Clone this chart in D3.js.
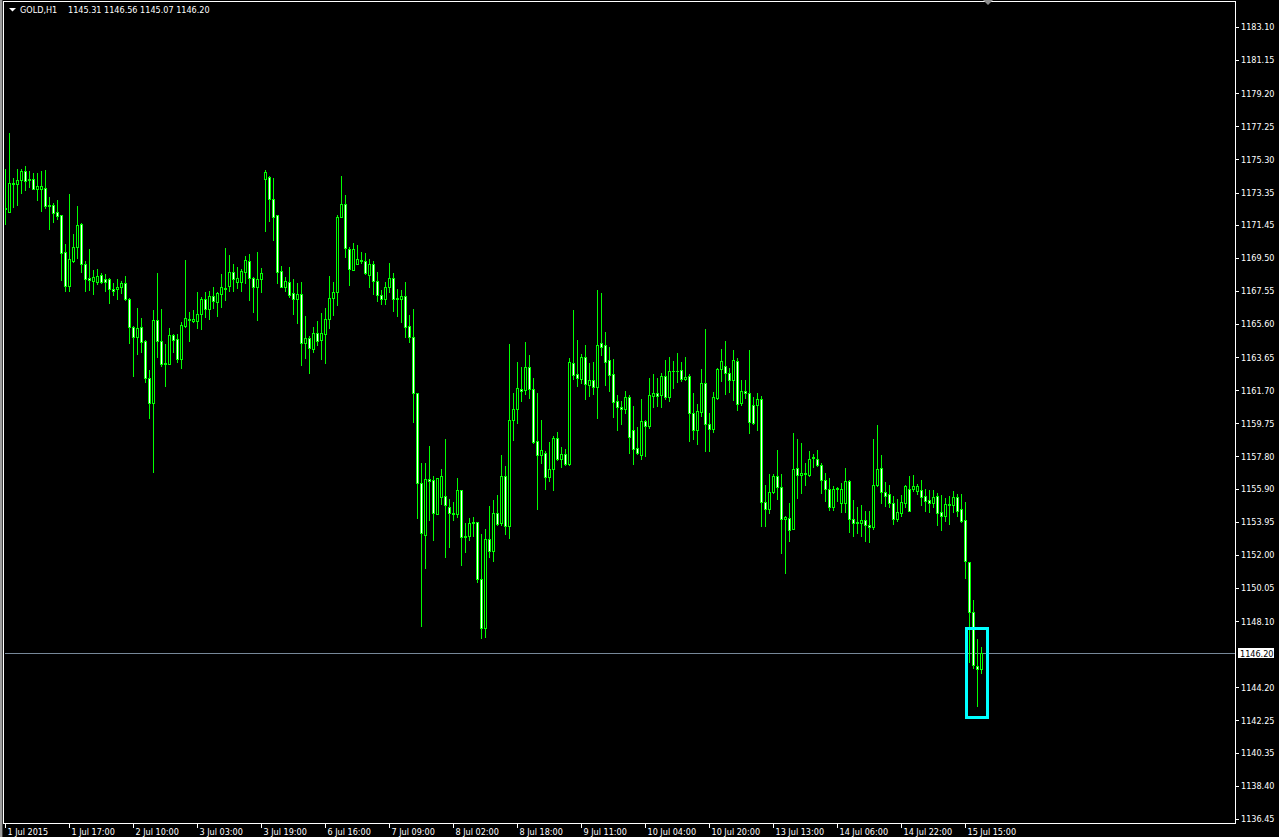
<!DOCTYPE html>
<html>
<head>
<meta charset="utf-8">
<title>GOLD,H1</title>
<script src="https://cdn.jsdelivr.net/npm/d3@7"></script>
<style>
  html, body { margin: 0; padding: 0; background: #000; overflow: hidden; }
  svg { display: block; }
  text { font-family: "DejaVu Sans Condensed", "Liberation Sans", sans-serif; font-size: 9px; fill: #fff; }
</style>
</head>
<body>
<svg id="chart"></svg>
<script>
// GOLD H1 bars, 1 Jul 2015 -> 15 Jul 2015
const symbol = 'GOLD,H1';

const opens = [
  1172.40, 1172.23, 1173.84, 1173.84, 1174.11, 1174.60, 1174.07, 1174.13, 1173.58, 1173.58,
  1173.60, 1172.58, 1172.60, 1172.19, 1172.01, 1169.83, 1167.87, 1169.34, 1170.14, 1171.48,
  1169.12, 1168.32, 1168.16, 1168.10, 1168.48, 1168.28, 1168.24, 1167.67, 1167.65, 1167.79,
  1168.00, 1167.08, 1165.43, 1164.82, 1165.41, 1164.59, 1162.41, 1160.94, 1165.82, 1164.59,
  1163.25, 1163.25, 1164.94, 1164.71, 1163.57, 1165.51, 1165.88, 1165.80, 1165.80, 1166.18,
  1167.06, 1166.47, 1167.24, 1166.92, 1167.35, 1167.73, 1167.83, 1168.67, 1168.06, 1168.06,
  1168.65, 1169.34, 1168.34, 1167.81, 1168.24, 1174.17, 1174.25, 1172.95, 1172.01, 1168.71,
  1167.81, 1168.08, 1167.42, 1167.06, 1167.36, 1164.51, 1164.79, 1164.16, 1165.06, 1164.69,
  1165.00, 1165.92, 1167.16, 1167.51, 1171.89, 1172.66, 1170.01, 1168.81, 1169.16, 1169.40,
  1169.30, 1168.52, 1169.12, 1168.12, 1167.32, 1167.10, 1167.81, 1168.30, 1167.10, 1167.10,
  1167.24, 1165.47, 1164.83, 1161.53, 1156.23, 1153.20, 1156.46, 1156.42, 1154.40, 1155.44,
  1155.50, 1154.81, 1154.46, 1154.40, 1155.81, 1153.08, 1153.14, 1153.87, 1153.93, 1150.57,
  1147.68, 1152.93, 1152.22, 1154.46, 1153.87, 1156.66, 1153.73, 1159.93, 1160.58, 1161.78,
  1161.70, 1163.06, 1161.76, 1158.70, 1157.91, 1157.99, 1156.58, 1157.05, 1158.89, 1157.64,
  1157.93, 1157.38, 1163.29, 1162.64, 1162.39, 1163.64, 1162.00, 1162.29, 1161.92, 1164.47,
  1164.35, 1163.47, 1162.64, 1161.05, 1160.72, 1160.62, 1161.29, 1159.35, 1158.29, 1157.87,
  1159.88, 1159.62, 1161.39, 1161.52, 1161.43, 1162.53, 1161.33, 1162.82, 1162.84, 1162.88,
  1162.37, 1162.53, 1160.35, 1159.38, 1160.44, 1162.11, 1159.72, 1159.44, 1161.27, 1162.94,
  1163.11, 1162.72, 1162.33, 1163.43, 1160.96, 1161.64, 1161.52, 1160.81, 1160.85, 1161.17,
  1155.12, 1154.69, 1155.69, 1156.63, 1155.98, 1154.10, 1154.20, 1153.53, 1157.12, 1156.69,
  1156.81, 1156.71, 1157.69, 1157.63, 1157.30, 1156.40, 1155.86, 1154.80, 1155.90, 1155.08,
  1155.08, 1156.34, 1154.10, 1153.94, 1153.86, 1154.06, 1153.76, 1153.67, 1156.10, 1157.12,
  1155.69, 1155.57, 1155.04, 1154.10, 1154.49, 1155.08, 1155.86, 1155.86, 1155.79, 1155.81,
  1155.45, 1155.24, 1155.06, 1155.45, 1154.51, 1154.31, 1155.00, 1154.94, 1155.41, 1154.69,
  1154.04, 1151.56, 1148.66, 1145.46, 1145.31
];
const highs = [
  1174.74, 1176.84, 1174.19, 1174.72, 1174.74, 1174.92, 1174.62, 1174.50, 1174.50, 1174.62,
  1174.68, 1173.09, 1172.74, 1172.91, 1172.03, 1170.32, 1173.27, 1170.91, 1172.56, 1171.56,
  1169.32, 1170.03, 1168.79, 1168.85, 1168.59, 1168.55, 1168.32, 1168.00, 1168.26, 1168.14,
  1168.44, 1167.14, 1165.49, 1166.55, 1165.96, 1164.69, 1162.90, 1166.41, 1168.61, 1166.49,
  1164.43, 1165.37, 1165.02, 1165.00, 1165.71, 1169.38, 1166.32, 1166.41, 1167.47, 1167.20,
  1167.47, 1167.55, 1167.77, 1167.49, 1168.55, 1170.09, 1169.67, 1169.12, 1168.97, 1168.83,
  1169.61, 1169.71, 1168.40, 1169.85, 1168.91, 1174.68, 1174.33, 1174.19, 1172.03, 1169.03,
  1168.40, 1168.97, 1168.26, 1168.03, 1168.08, 1166.08, 1164.90, 1165.43, 1165.79, 1166.26,
  1166.55, 1168.44, 1168.08, 1172.03, 1174.33, 1173.21, 1170.13, 1170.38, 1170.26, 1169.85,
  1169.79, 1169.44, 1169.32, 1168.67, 1167.61, 1168.08, 1169.20, 1168.61, 1167.67, 1167.61,
  1168.08, 1166.14, 1166.49, 1161.53, 1157.42, 1157.42, 1158.42, 1156.66, 1156.52, 1157.07,
  1158.84, 1155.28, 1155.13, 1156.54, 1155.81, 1153.91, 1154.16, 1154.24, 1153.93, 1153.24,
  1153.53, 1154.89, 1155.24, 1155.54, 1157.89, 1157.24, 1164.43, 1161.54, 1163.37, 1163.08,
  1164.55, 1163.78, 1162.41, 1161.54, 1159.95, 1158.15, 1158.66, 1159.01, 1159.25, 1158.34,
  1158.25, 1163.59, 1166.43, 1164.67, 1163.84, 1164.37, 1163.31, 1163.37, 1167.61, 1167.43,
  1165.14, 1164.25, 1163.55, 1161.43, 1161.07, 1161.66, 1161.45, 1160.78, 1159.54, 1161.19,
  1159.95, 1162.45, 1162.64, 1162.45, 1162.72, 1163.49, 1163.64, 1163.45, 1163.90, 1163.37,
  1163.64, 1162.64, 1161.54, 1160.88, 1162.96, 1165.29, 1160.35, 1161.58, 1163.04, 1164.14,
  1164.61, 1163.04, 1164.08, 1163.59, 1162.31, 1162.31, 1164.08, 1161.32, 1161.52, 1161.36,
  1156.12, 1156.77, 1156.77, 1158.18, 1156.77, 1154.29, 1155.06, 1159.18, 1158.83, 1158.59,
  1157.40, 1158.12, 1157.95, 1158.18, 1157.42, 1156.81, 1156.51, 1156.06, 1156.02, 1156.22,
  1157.12, 1156.40, 1155.24, 1154.82, 1154.94, 1154.59, 1154.59, 1158.83, 1159.65, 1157.89,
  1156.30, 1156.12, 1155.47, 1155.30, 1155.53, 1156.12, 1156.65, 1156.71, 1156.18, 1156.41,
  1155.88, 1155.83, 1155.83, 1155.67, 1155.53, 1155.33, 1155.47, 1155.77, 1155.59, 1155.59,
  1155.12, 1151.56, 1149.35, 1147.05, 1146.56
];
const lows = [
  1171.52, 1172.19, 1172.52, 1172.62, 1173.34, 1173.50, 1173.68, 1173.58, 1172.91, 1172.28,
  1172.42, 1171.22, 1171.64, 1171.79, 1168.20, 1167.57, 1167.57, 1169.28, 1169.52, 1168.69,
  1167.57, 1167.61, 1167.40, 1167.94, 1168.04, 1167.57, 1166.87, 1167.32, 1167.08, 1167.41,
  1167.04, 1164.49, 1162.56, 1163.86, 1163.96, 1162.19, 1160.09, 1156.91, 1163.68, 1163.15,
  1161.98, 1163.23, 1163.98, 1163.35, 1163.04, 1165.41, 1164.63, 1165.71, 1165.37, 1165.33,
  1166.04, 1165.92, 1166.53, 1166.10, 1166.61, 1167.04, 1167.57, 1167.57, 1167.71, 1167.57,
  1168.04, 1167.02, 1166.34, 1165.85, 1167.51, 1171.11, 1171.68, 1170.56, 1168.04, 1167.81,
  1167.57, 1167.22, 1166.20, 1165.67, 1163.21, 1163.63, 1162.74, 1163.96, 1164.37, 1163.55,
  1163.33, 1165.39, 1166.14, 1166.73, 1171.89, 1169.58, 1167.91, 1168.79, 1169.16, 1169.20,
  1168.56, 1167.81, 1167.38, 1166.98, 1166.79, 1166.79, 1167.51, 1166.38, 1166.10, 1165.71,
  1164.86, 1164.55, 1159.86, 1154.20, 1147.84, 1151.26, 1154.03, 1152.89, 1154.40, 1155.01,
  1151.85, 1152.44, 1154.06, 1154.24, 1151.41, 1152.20, 1152.89, 1153.14, 1150.43, 1147.09,
  1147.15, 1151.85, 1151.67, 1153.77, 1153.77, 1153.24, 1153.02, 1158.78, 1159.80, 1161.09,
  1161.49, 1161.27, 1158.62, 1154.73, 1157.44, 1155.91, 1156.36, 1155.83, 1157.62, 1157.20,
  1157.32, 1157.32, 1162.37, 1161.96, 1162.11, 1161.21, 1161.39, 1161.50, 1160.09, 1163.76,
  1162.02, 1161.66, 1160.11, 1159.38, 1159.74, 1160.35, 1158.03, 1157.38, 1157.95, 1157.68,
  1157.83, 1159.50, 1160.70, 1160.78, 1160.72, 1161.21, 1161.09, 1161.84, 1162.19, 1162.27,
  1162.29, 1158.74, 1158.81, 1158.56, 1160.21, 1158.15, 1158.15, 1159.27, 1161.21, 1162.27,
  1161.50, 1161.58, 1161.15, 1160.54, 1160.86, 1161.23, 1159.21, 1159.71, 1159.36, 1153.71,
  1153.71, 1154.49, 1155.63, 1155.30, 1152.13, 1150.96, 1152.84, 1153.51, 1155.37, 1155.67,
  1156.12, 1156.67, 1157.20, 1157.24, 1155.67, 1155.20, 1154.65, 1154.65, 1155.20, 1154.55,
  1154.55, 1153.37, 1153.14, 1153.31, 1153.14, 1152.84, 1152.78, 1153.55, 1156.06, 1155.08,
  1154.88, 1154.84, 1153.82, 1154.00, 1154.29, 1154.84, 1154.57, 1155.77, 1155.59, 1154.94,
  1154.61, 1154.55, 1154.80, 1153.76, 1153.47, 1154.02, 1153.82, 1154.55, 1154.31, 1153.94,
  1150.64, 1145.71, 1145.36, 1143.12, 1145.07
];
const closes = [
  1172.46, 1173.89, 1173.89, 1174.07, 1174.60, 1174.05, 1174.13, 1173.58, 1173.72, 1173.72,
  1172.58, 1172.62, 1172.17, 1171.99, 1169.81, 1167.87, 1169.42, 1170.12, 1171.42, 1169.12,
  1168.28, 1168.20, 1168.36, 1168.44, 1168.10, 1168.10, 1167.65, 1167.53, 1167.79, 1168.02,
  1167.06, 1165.41, 1164.82, 1165.35, 1164.57, 1162.43, 1160.94, 1165.82, 1164.59, 1163.25,
  1163.29, 1164.94, 1164.69, 1163.57, 1165.53, 1165.98, 1165.82, 1165.90, 1166.18, 1167.06,
  1166.47, 1167.28, 1166.94, 1167.41, 1167.77, 1167.69, 1168.67, 1168.24, 1168.30, 1168.73,
  1169.38, 1168.30, 1167.81, 1168.26, 1168.59, 1174.54, 1172.99, 1171.93, 1168.69, 1167.81,
  1168.12, 1167.34, 1167.06, 1167.38, 1164.51, 1164.77, 1164.22, 1165.06, 1164.63, 1165.06,
  1165.88, 1167.12, 1167.49, 1171.91, 1172.66, 1170.11, 1168.87, 1170.01, 1169.42, 1169.32,
  1168.59, 1169.12, 1168.12, 1167.34, 1167.10, 1167.77, 1168.30, 1167.10, 1167.14, 1167.24,
  1165.45, 1164.81, 1161.53, 1156.23, 1153.28, 1156.46, 1156.34, 1154.46, 1156.52, 1156.64,
  1154.93, 1154.46, 1154.40, 1155.81, 1153.08, 1153.12, 1153.87, 1153.95, 1150.61, 1147.68,
  1152.93, 1152.22, 1154.46, 1153.83, 1156.66, 1153.73, 1159.93, 1160.58, 1161.82, 1161.64,
  1163.06, 1161.76, 1158.66, 1157.87, 1158.17, 1156.62, 1157.05, 1158.89, 1157.68, 1157.93,
  1157.38, 1163.35, 1162.62, 1162.41, 1163.64, 1162.05, 1162.29, 1161.92, 1164.35, 1164.27,
  1163.39, 1162.58, 1161.03, 1160.70, 1160.62, 1161.29, 1158.97, 1158.23, 1157.99, 1159.88,
  1159.62, 1161.41, 1161.52, 1161.39, 1162.53, 1161.31, 1162.82, 1162.84, 1162.82, 1162.35,
  1162.47, 1160.39, 1159.38, 1160.48, 1162.11, 1159.74, 1159.44, 1161.29, 1162.96, 1163.43,
  1162.74, 1162.33, 1163.49, 1160.88, 1161.64, 1161.56, 1159.86, 1159.75, 1161.17, 1155.14,
  1154.69, 1155.69, 1156.63, 1155.98, 1154.10, 1154.22, 1153.45, 1157.04, 1156.69, 1156.81,
  1156.77, 1157.63, 1157.77, 1157.28, 1156.40, 1155.90, 1154.84, 1155.86, 1155.96, 1155.86,
  1156.34, 1154.10, 1153.90, 1153.86, 1154.06, 1153.74, 1153.63, 1156.12, 1157.04, 1155.73,
  1155.49, 1155.04, 1154.10, 1154.53, 1155.10, 1156.06, 1154.61, 1156.04, 1156.06, 1155.43,
  1155.20, 1155.08, 1155.39, 1154.49, 1154.31, 1155.00, 1154.94, 1155.41, 1154.59, 1154.02,
  1151.62, 1148.66, 1145.52, 1145.26, 1146.20
];

// time scale labels, one every 16 bars
const timeLabels = [
  '1 Jul 2015', '1 Jul 17:00', '2 Jul 10:00', '3 Jul 03:00', '3 Jul 19:00', '6 Jul 16:00',
  '7 Jul 09:00', '8 Jul 02:00', '8 Jul 18:00', '9 Jul 11:00', '10 Jul 04:00', '10 Jul 20:00',
  '13 Jul 13:00', '14 Jul 06:00', '14 Jul 22:00', '15 Jul 15:00'
];
const barsPerLabel = 16;

const priceLabels = [
  '1183.10', '1181.15', '1179.20', '1177.25', '1175.30', '1173.35', '1171.45', '1169.50',
  '1167.55', '1165.60', '1163.65', '1161.70', '1159.75', '1157.80', '1155.90', '1153.95',
  '1152.00', '1150.05', '1148.10', '1144.20', '1142.25', '1140.35', '1138.40', '1136.45'
];

// rectangle object drawn on the chart (bar index range, price range)
const boxBars = [240.4, 245.5];
const boxPrices = [1147.67, 1142.45];

const width = 1279;
const height = 837;
const plot = { left: 4, top: 1, right: 1235, bottom: 823 };

const svg = d3.select('#chart')
  .attr('width', width)
  .attr('height', height)
  .attr('shape-rendering', 'crispEdges');

svg.append('rect').attr('width', width).attr('height', height).attr('fill', '#000');

// 4px per bar, chart shifted away from the right edge
const xScale = d3.scaleLinear().domain([0, 300]).range([5, 1205]);
const yScale = d3.scaleLinear().domain([1136.21, 1184.69]).range([plot.bottom, 0]);

const bars = d3.range(opens.length).map((i) => ({
  i,
  open: opens[i],
  high: highs[i],
  low: lows[i],
  close: closes[i],
}));

svg.append('clipPath').attr('id', 'plot-clip')
  .append('rect')
  .attr('x', plot.left + 1).attr('y', plot.top + 1)
  .attr('width', plot.right - plot.left - 1).attr('height', plot.bottom - plot.top - 1);

const chart = svg.append('g').attr('clip-path', 'url(#plot-clip)');

// current price line (last close)
const last = bars[bars.length - 1];
const priceY = Math.round(yScale(last.close)) + 0.5;
chart.append('line')
  .attr('x1', plot.left).attr('x2', plot.right)
  .attr('y1', priceY).attr('y2', priceY)
  .attr('stroke', '#778899');

const candles = chart.append('g').attr('class', 'candles')
  .selectAll('g')
  .data(bars)
  .join('g');

// wicks
candles.append('rect')
  .attr('x', (d) => Math.round(xScale(d.i)))
  .attr('y', (d) => Math.round(yScale(d.high)))
  .attr('width', 1)
  .attr('height', (d) => Math.round(yScale(d.low)) - Math.round(yScale(d.high)) + 1)
  .attr('fill', '#00ff00');

// body outline
candles.append('rect')
  .attr('x', (d) => Math.round(xScale(d.i)) - 1)
  .attr('y', (d) => Math.round(yScale(Math.max(d.open, d.close))))
  .attr('width', 3)
  .attr('height', (d) => Math.round(yScale(Math.min(d.open, d.close))) - Math.round(yScale(Math.max(d.open, d.close))) + 1)
  .attr('fill', '#00ff00');

// body fill: black for bull, white for bear
candles.append('rect')
  .attr('x', (d) => Math.round(xScale(d.i)))
  .attr('y', (d) => Math.round(yScale(Math.max(d.open, d.close))) + 1)
  .attr('width', 1)
  .attr('height', (d) => Math.max(0, Math.round(yScale(Math.min(d.open, d.close))) - Math.round(yScale(Math.max(d.open, d.close))) - 1))
  .attr('fill', (d) => (d.close >= d.open ? '#000' : '#fff'));

// rectangle object
const bx0 = xScale(boxBars[0]);
const bx1 = xScale(boxBars[1]);
const by0 = yScale(boxPrices[0]);
const by1 = yScale(boxPrices[1]);
chart.append('rect')
  .attr('x', bx0).attr('y', by0)
  .attr('width', bx1 - bx0).attr('height', by1 - by0)
  .attr('fill', 'none')
  .attr('stroke', '#00ffff')
  .attr('stroke-width', 3);

// window edge on the left
svg.append('rect').attr('x', 0).attr('y', 0).attr('width', 2).attr('height', height).attr('fill', '#9c9c9c');
svg.append('rect').attr('x', 2).attr('y', 0).attr('width', 1).attr('height', height).attr('fill', '#3c3c3c');

// frame
svg.append('rect')
  .attr('x', plot.left - 0.5).attr('y', plot.top + 0.5)
  .attr('width', plot.right - plot.left + 1).attr('height', plot.bottom - plot.top)
  .attr('fill', 'none')
  .attr('stroke', '#fff');

// price axis
const yAxis = d3.axisRight(yScale)
  .tickValues(priceLabels.map(Number))
  .tickFormat((d, i) => priceLabels[i])
  .tickSize(3)
  .tickPadding(2);

const yAxisG = svg.append('g')
  .attr('transform', `translate(${plot.right + 1}, 0)`)
  .call(yAxis);
yAxisG.select('.domain').remove();
yAxisG.selectAll('line').attr('stroke', '#fff');
yAxisG.selectAll('text')
  .attr('fill', '#fff')
  .attr('font-family', null)
  .attr('font-size', null);
yAxisG.attr('font-family', null).attr('font-size', null);

// current price label
svg.append('rect')
  .attr('x', 1238).attr('y', Math.round(yScale(last.close)) - 5)
  .attr('width', 36).attr('height', 10)
  .attr('fill', '#fff');
svg.append('text')
  .attr('x', 1240).attr('y', priceY)
  .attr('dy', '0.35em')
  .style('fill', '#000')
  .text(last.close.toFixed(2));

// time axis
const xAxis = d3.axisBottom(xScale)
  .tickValues(timeLabels.map((d, i) => i * barsPerLabel))
  .tickFormat((d, i) => timeLabels[i])
  .tickSize(4)
  .tickPadding(1);

const xAxisG = svg.append('g')
  .attr('transform', `translate(0, ${plot.bottom + 1})`)
  .call(xAxis);
xAxisG.select('.domain').remove();
xAxisG.selectAll('line').attr('stroke', '#fff');
xAxisG.selectAll('text')
  .attr('text-anchor', 'start')
  .attr('x', 2)
  .attr('fill', '#fff');
xAxisG.attr('font-family', null).attr('font-size', null).attr('text-anchor', null);

// chart shift marker
svg.append('path')
  .attr('d', 'M983,0 L993,0 L988,5 Z')
  .attr('fill', '#8c8c8c')
  .attr('shape-rendering', 'auto');

// title: symbol and last bar OHLC
svg.append('path')
  .attr('d', 'M9,8 L16,8 L12.5,11.5 Z')
  .attr('fill', '#fff')
  .attr('shape-rendering', 'auto');
svg.append('text')
  .attr('x', 20).attr('y', 10)
  .attr('dy', '0.32em')
  .text(symbol);
svg.append('text')
  .attr('x', 68).attr('y', 10)
  .attr('dy', '0.32em')
  .text([last.open, last.high, last.low, last.close].map((v) => v.toFixed(2)).join(' '));
</script>
</body>
</html>
